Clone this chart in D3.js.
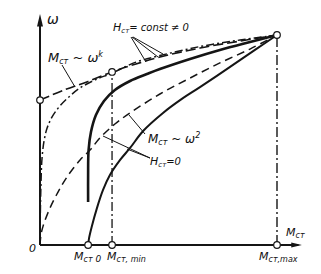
<!DOCTYPE html>
<html><head><meta charset="utf-8">
<script src="https://cdn.jsdelivr.net/npm/d3@7"></script>
<style>
html,body{margin:0;padding:0;background:#fff;}
text{font-family:"DejaVu Sans",sans-serif;font-style:italic;fill:#111;}
</style></head>
<body><svg id="c" width="321" height="274"></svg>
<script>
// Data: M (0..100, Mст,max = 100), ω (0..100, ω at Mст,max = 100)
const curveHzero = [[0,0],[0.4,4.8],[1.3,9.0],[4.2,17.6],[7.6,25.2],[11.4,32.4],[16.9,40.5],[21.1,45.2],[25.3,51.0],[31.6,57.6],[38.0,62.9],[50.6,71.9],[63.3,79.5],[75.9,86.7],[88.6,93.3],[100,100]];
const curveHzeroFriction = [[20.3,0],[20.7,3.3],[21.8,8.6],[23.9,17.1],[26.6,26.2],[29.5,33.3],[33.8,40.5],[38.0,46.2],[43.5,54.3],[51.9,62.9],[59.1,69.0],[67.5,75.2],[80.2,84.8],[90.7,92.9],[100,100]];
const curveHconstDashed = [[0,69.0],[9.7,73.6],[20.3,77.9],[30.4,82.4],[40.5,86.2],[50.6,89.5],[67.5,93.8],[84.4,97.1],[100,100]];
const curveOmegaK = [[0,0],[0.1,11.9],[0.4,28.6],[0.8,40.5],[1.7,49.5],[3.0,55.7],[5.1,61.0],[8.4,66.2],[12.7,71.0],[16.9,74.8],[23.2,78.6],[30.4,81.9],[40.5,87.1],[50.6,90.2],[67.5,94.5],[84.4,97.6],[100,100]];
const curveHconstSolid = [[20.3,20.5],[20.3,33.3],[20.5,45.2],[21.5,53.8],[23.6,61.9],[27.0,68.6],[31.6,73.8],[38.0,78.1],[45.1,81.4],[50.6,83.8],[63.3,88.6],[75.9,92.9],[88.6,96.7],[100,100]];
const mMarks = {m0:20.3, mMin:30.4, mMax:100};
const omegaStart = 69.0;
const omegaAtMin = 82.4;

const svg = d3.select("#c");
const x = d3.scaleLinear().domain([0,100]).range([40,277]);
const y = d3.scaleLinear().domain([0,100]).range([245,35]);
const ink = "#151515";
const line = d3.line().x(d=>x(d[0])).y(d=>y(d[1])).curve(d3.curveCatmullRom.alpha(0.5));

// axes
svg.append("line").attr("x1",x(0)).attr("y1",y(0)).attr("x2",x(0)).attr("y2",y(108)).attr("stroke",ink).attr("stroke-width",2);
svg.append("path").attr("d",`M${x(0)-3},${y(104)} L${x(0)},${y(110)} L${x(0)+3},${y(104)} Z`).attr("fill",ink);
svg.append("line").attr("x1",x(0)).attr("y1",y(0)).attr("x2",x(109)).attr("y2",y(0)).attr("stroke",ink).attr("stroke-width",1.8);
svg.append("path").attr("d",`M${x(106)},${y(0)-2.5} L${x(110.5)},${y(0)} L${x(106)},${y(0)+2.5} Z`).attr("fill",ink);

// vertical dash-dot guides
svg.append("line").attr("x1",x(mMarks.mMin)).attr("y1",y(0)).attr("x2",x(mMarks.mMin)).attr("y2",y(omegaAtMin))
  .attr("stroke",ink).attr("stroke-width",1.3).attr("stroke-dasharray","9,3,2,3");
svg.append("line").attr("x1",x(mMarks.mMax)).attr("y1",y(0)).attr("x2",x(mMarks.mMax)).attr("y2",y(100))
  .attr("stroke",ink).attr("stroke-width",1.4).attr("stroke-dasharray","10,3,2,3");

// curves
svg.append("path").attr("d",line(curveHzero)).attr("fill","none").attr("stroke",ink).attr("stroke-width",1.5).attr("stroke-dasharray","8,5");
svg.append("path").attr("d",line(curveHzeroFriction)).attr("fill","none").attr("stroke",ink).attr("stroke-width",2);
svg.append("path").attr("d",line(curveOmegaK)).attr("fill","none").attr("stroke",ink).attr("stroke-width",1.5).attr("stroke-dasharray","8,3,2,3");
svg.append("path").attr("d",line(curveHconstDashed)).attr("fill","none").attr("stroke",ink).attr("stroke-width",1.6).attr("stroke-dasharray","10,4");
svg.append("path").attr("d",line(curveHconstSolid)).attr("fill","none").attr("stroke",ink).attr("stroke-width",2.6);

// leader lines
const leaders = [
  [[62,65],[75,87]],
  [[131,37],[146,62]],[[132,37],[158,57]],[[133,37],[163,54]],
  [[145,134],[129,115]],
  [[150,158],[103,136]],[[150,158],[127,149]]
];
leaders.forEach(l=>svg.append("line").attr("x1",l[0][0]).attr("y1",l[0][1]).attr("x2",l[1][0]).attr("y2",l[1][1]).attr("stroke",ink).attr("stroke-width",1));

// marker circles
const circles = [[0,omegaStart],[mMarks.mMin,omegaAtMin],[100,100],[mMarks.m0,0],[mMarks.mMin,0],[mMarks.mMax,0]];
circles.forEach(c=>svg.append("circle").attr("cx",x(c[0])).attr("cy",y(c[1])).attr("r",3.3).attr("fill","#fff").attr("stroke",ink).attr("stroke-width",1.2));

// labels
function label(px,py,parts,anchor){
  const t = svg.append("text").attr("x",px).attr("y",py).attr("text-anchor",anchor||"start");
  parts.forEach(p=>{
    const s = t.append("tspan").text(p[0]).attr("font-size",p[1]);
    if(p[2]) s.attr("dy",p[2]);
  });
  return t;
}
label(47,24,[["ω",14]]);
label(48,62,[["M",13],["ст",8,2],[" ~ ω",13,-2],["k",8,-5]]);
label(113,31,[["H",11],["ст",7,2],["= const ≠ 0",10,-2]]);
label(148,143,[["M",12],["ст",8,2],[" ~ ω",12,-2],["2",8,-5]]);
label(150,165,[["H",11],["ст",7,2],["=0",10,-2]]);
label(29,252,[["0",11]]);
label(74,260,[["M",11],["ст",8,2],[" 0",9,0]]);
label(107,260,[["M",11],["ст, min",8,2]]);
label(259,260,[["M",11],["ст,max",8,2]]);
label(286,236,[["M",11],["ст",8,2]]);
</script></body></html>
